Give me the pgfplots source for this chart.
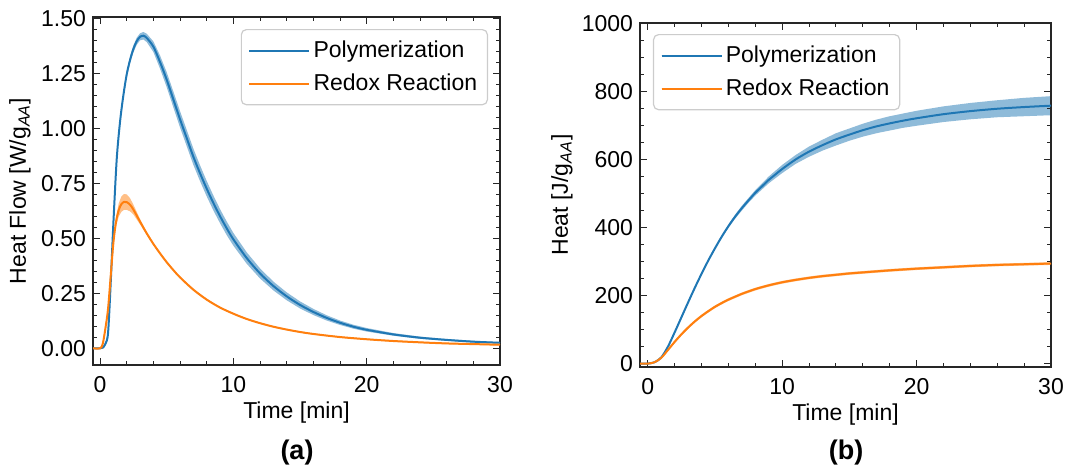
\documentclass[border=0pt]{standalone}
\usepackage{fontspec}
\setmainfont{Liberation Sans}
\usepackage{pgfplots}
\usepackage{pgfplotstable}
\pgfplotsset{compat=1.18}
\definecolor{C0}{HTML}{1F77B4}
\definecolor{C1}{HTML}{FF7F0E}

\pgfplotstableread{
t m d
-0.6 0 0.003
0 0 0.003
0.2 0.003 0.003
0.4 0.02 0.004
0.6 0.07 0.006
0.8 0.30 0.008
1.0 0.57 0.010
1.25 0.86 0.012
1.5 1.03 0.014
1.75 1.15 0.015
2.0 1.245 0.015
2.25 1.31 0.016
2.5 1.36 0.016
2.75 1.395 0.016
3.0 1.415 0.016
3.25 1.42 0.017
3.5 1.41 0.019
4.0 1.37 0.024
4.5 1.30 0.030
5.0 1.22 0.034
5.5 1.13 0.036
6.0 1.04 0.037
6.5 0.955 0.037
7.0 0.87 0.037
7.5 0.795 0.036
8.0 0.725 0.035
8.5 0.66 0.034
9.0 0.60 0.032
9.5 0.545 0.031
10 0.495 0.029
11 0.41 0.026
12 0.34 0.023
13 0.283 0.020
14 0.236 0.018
15 0.197 0.016
16 0.165 0.014
17 0.138 0.012
18 0.116 0.010
19 0.098 0.009
20 0.084 0.008
22 0.063 0.006
24 0.048 0.005
26 0.038 0.004
28 0.030 0.004
30 0.025 0.003
}\flowP

\pgfplotstableread{
t m d
-0.6 0 0.003
0 0 0.003
0.2 0.02 0.004
0.4 0.09 0.005
0.6 0.18 0.006
0.8 0.33 0.008
1.0 0.48 0.014
1.2 0.575 0.020
1.4 0.628 0.030
1.6 0.655 0.035
1.8 0.665 0.036
2.0 0.664 0.035
2.25 0.652 0.030
2.5 0.63 0.022
3.0 0.575 0.012
3.5 0.522 0.007
4.0 0.474 0.005
4.5 0.431 0.005
5.0 0.391 0.005
5.5 0.355 0.004
6.0 0.322 0.004
7.0 0.266 0.004
8.0 0.221 0.004
9.0 0.185 0.003
10 0.157 0.003
11 0.133 0.003
12 0.114 0.003
13 0.098 0.003
14 0.085 0.003
15 0.074 0.003
16 0.065 0.003
18 0.051 0.003
20 0.041 0.003
22 0.033 0.003
24 0.027 0.003
26 0.022 0.003
28 0.019 0.003
30 0.016 0.003
}\flowR

\pgfplotstableread{
t m d
-0.6 0 1
0 0 1
0.5 4 1
1.0 18 2
1.5 50 2
2.0 92 3
2.5 136 3
3.0 180 3
3.5 223 3
4.0 264 3
4.5 303 3
5.0 339 3
5.5 373 4
6.0 404 5
6.5 432 6
7.0 457 7
7.5 480 7
8.0 502 8
8.5 521 9
9.0 540 10
9.5 556 11
10 572 12
11 600 13
12 623 15
13 642 16
14 659 18
15 673 18
16 686 19
17 697 20
18 706 21
19 714 21
20 721 22
22 733 23
24 742 24
26 749 25
28 754 27
30 758 28
}\heatP

\pgfplotstableread{
t m d
-0.6 0 1
0 0 1
0.5 4 1
1.0 17 2
1.5 40 3
2.0 64 4
2.5 86 4
3.0 106 4
3.5 124 4
4.0 140 4
4.5 154 4
5.0 167 4
5.5 178 4
6.0 188 4
7.0 205 4
8.0 219 4
9.0 230 4
10 239 4
11 246 4
12 252 4
13 257 4
14 261 4
15 265 4
16 268 4
18 274 4
20 279 4
22 283 4
24 287 4
26 290 4
28 292 4
30 294 4
}\heatR

\pgfplotsset{
  leftbox/.style={scale only axis, anchor=north west,
    at={(46.5pt,-8.5pt)}, width=203.5pt, height=174pt,
    xmin=-0.53, xmax=30, ymin=-0.076, ymax=1.505},
  rightbox/.style={scale only axis, anchor=north west,
    at={(320pt,-11.5pt)}, width=205.5pt, height=172pt,
    xmin=-0.58, xmax=30, ymin=-10, ymax=1001},
  bandaxis/.style={hide axis, clip=true},
  myaxis/.style={
    axis line style={black!85, line width=0.6pt},
    tick align=inside,
    xtick pos=both, ytick pos=both,
    major tick length=3.5pt,
    minor tick length=2pt,
    every tick/.style={black!85, line width=0.5pt},
    /pgf/number format/assume math mode=true,
    tick label style={font=\fontsize{11.5}{13.8}\selectfont},
    label style={font=\fontsize{11.5}{13.8}\selectfont},
    xtick={0,10,20,30},
    minor x tick num=4,
    xlabel={Time [min]},
    xticklabel style={yshift=-2pt},
    xlabel style={at={(axis description cs:0.5,0)}, anchor=center, yshift=-24pt},
    legend cell align=left,
    legend image code/.code={\draw[#1, line width=1pt] (0pt,0pt) -- (23pt,0pt); \path (0pt,0pt) -- (30pt,0pt);},
    legend style={draw=black!20, line width=0.6pt, rounded corners=2.5pt,
      font=\fontsize{11.5}{13.8}\selectfont,
      inner xsep=3.5pt, inner ysep=4pt, row sep=3.5pt,
      nodes={inner sep=1.6pt}},
  },
}

\begin{document}
\begin{tikzpicture}
\useasboundingbox (0,0) rectangle (535pt,-233pt);

% ---------- bands, panel (a)
\begin{axis}[leftbox, bandaxis]
\addplot[draw=none, stack plots=y, forget plot] table[x=t, y expr=\thisrow{m}-\thisrow{d}] {\flowP};
\addplot[draw=none, fill=C0, fill opacity=0.5, stack plots=y, forget plot] table[x=t, y expr=2*\thisrow{d}] {\flowP} \closedcycle;
\end{axis}
\begin{axis}[leftbox, bandaxis]
\addplot[draw=none, stack plots=y, forget plot] table[x=t, y expr=\thisrow{m}-\thisrow{d}] {\flowR};
\addplot[draw=none, fill=C1, fill opacity=0.5, stack plots=y, forget plot] table[x=t, y expr=2*\thisrow{d}] {\flowR} \closedcycle;
\end{axis}

\begin{axis}[leftbox, myaxis,
  ytick={0,0.25,...,1.5},
  minor y tick num=4,
  yticklabel style={/pgf/number format/.cd, fixed, fixed zerofill, precision=2},
  ylabel={Heat Flow [W/g\textsubscript{\itshape AA}]},
  ylabel style={at={(axis description cs:-0.1794,0.5)}, anchor=center},
  legend style={at={(0.9705,0.9655)}, anchor=north east},
]
\addplot[C0, line width=1pt, smooth] table[x=t, y=m] {\flowP};
\addlegendentry{Polymerization}
\addplot[C1, line width=1pt, smooth] table[x=t, y=m] {\flowR};
\addlegendentry{Redox Reaction}
\end{axis}

% ---------- bands, panel (b)
\begin{axis}[rightbox, bandaxis]
\addplot[draw=none, stack plots=y, forget plot] table[x=t, y expr=\thisrow{m}-\thisrow{d}] {\heatP};
\addplot[draw=none, fill=C0, fill opacity=0.5, stack plots=y, forget plot] table[x=t, y expr=2*\thisrow{d}] {\heatP} \closedcycle;
\end{axis}
\begin{axis}[rightbox, bandaxis]
\addplot[draw=none, stack plots=y, forget plot] table[x=t, y expr=\thisrow{m}-\thisrow{d}] {\heatR};
\addplot[draw=none, fill=C1, fill opacity=0.5, stack plots=y, forget plot] table[x=t, y expr=2*\thisrow{d}] {\heatR} \closedcycle;
\end{axis}

\begin{axis}[rightbox, myaxis,
  ytick={0,200,...,1000},
  minor y tick num=3,
  yticklabel style={/pgf/number format/.cd, 1000 sep={}},
  ylabel={Heat [J/g\textsubscript{\itshape AA}]},
  ylabel style={at={(axis description cs:-0.1898,0.5)}, anchor=center},
  legend style={at={(0.0316,0.968)}, anchor=north west},
]
\addplot[C0, line width=1pt, smooth] table[x=t, y=m] {\heatP};
\addlegendentry{Polymerization}
\addplot[C1, line width=1pt, smooth] table[x=t, y=m] {\heatR};
\addlegendentry{Redox Reaction}
\end{axis}

\node[anchor=base, font=\fontsize{13.5}{16}\selectfont\bfseries] at (148.5pt,-229.5pt) {(a)};
\node[anchor=base, font=\fontsize{13.5}{16}\selectfont\bfseries] at (423pt,-229.5pt) {(b)};
\end{tikzpicture}
\end{document}
